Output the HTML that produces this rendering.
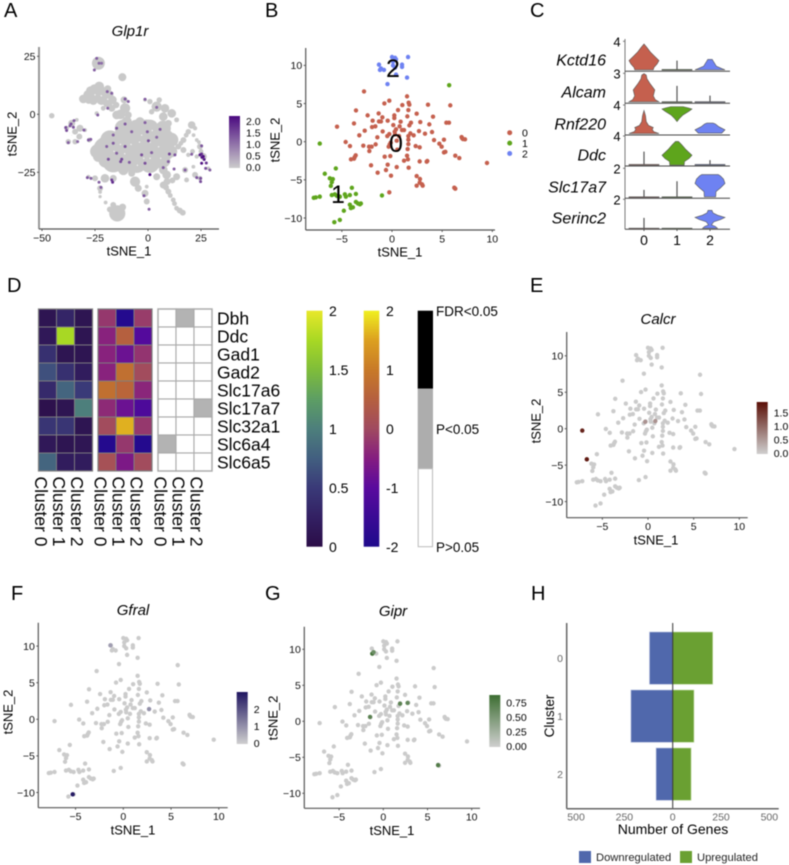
<!DOCTYPE html>
<html><head><meta charset="utf-8"><title>Figure</title>
<style>
html,body{margin:0;padding:0;background:#fff;width:789px;height:865px;overflow:hidden}
svg{display:block;filter:blur(0.4px)}
text{font-family:"Liberation Sans",sans-serif;fill:#000}
.tit{font-style:italic;font-size:15px;text-anchor:middle}
.let{font-size:20px}
</style></head>
<body>
<svg id="fig" xmlns="http://www.w3.org/2000/svg" width="789" height="865" viewBox="0 0 789 865">
<rect width="789" height="865" fill="#fff"/>
<text class="let" x="4" y="17">A</text>
<text class="let" x="265" y="17">B</text>
<text class="let" x="530" y="17">C</text>
<text class="let" x="7" y="292">D</text>
<text class="let" x="530" y="292">E</text>
<text class="let" x="11" y="600">F</text>
<text class="let" x="265" y="600">G</text>
<text class="let" x="531" y="600">H</text>
<text class="tit" x="130" y="36">Glp1r</text>
<text class="tit" x="658" y="324">Calcr</text>
<text class="tit" x="133" y="615">Gfral</text>
<text class="tit" x="393" y="616">Gipr</text>
</svg>
<script>
/* ---------- shared tSNE data ---------- */
var cluster0Points=[[-2.79,6.59],[1.5,5.94],[-.27,5.37],[1.66,5.11],[1.73,4.85],[3.59,4.85],[5.81,4.76],[-.76,5.02],[1.03,4.8],[-3.59,4.1],[.6,4.15],[1.63,4.15],[-1.33,3.71],[-2.43,3.45],[-.96,3.19],[.23,3.45],[.23,3.1],[1.53,3.32],[2.46,3.67],[4.09,3.28],[-1.93,2.75],[-.43,2.75],[-1.3,2.66],[-1.1,2.66],[.86,2.62],[2.82,2.58],[5.42,2.49],[5.68,2.49],[1.89,2.49],[-3.79,2.4],[.13,2.18],[1.73,2.14],[3.72,2.27],[-5.48,1.97],[-1.66,2.01],[-1.99,1.92],[.76,2.01],[2.69,1.4],[-2.72,1.44],[-.93,1.35],[.4,1.62],[1,1.53],[1.2,1.53],[.27,1.31],[.3,.96],[1.83,1.09],[2.16,.83],[3.29,1.05],[3.99,1.27],[-3.26,.83],[-1.46,.57],[-.27,1],[-.47,.74],[.7,.74],[1.63,.74],[.47,.13],[1.63,.26],[4.19,.22],[5.18,.26],[6.94,.61],[6.98,.48],[7.08,.35],[7.28,.31],[-4.62,-.04],[-4.19,-.57],[-2.86,-.52],[-2.29,-.66],[-2.03,-.66],[-1.63,-.35],[-.23,-.35],[-.33,-.66],[-.13,-.13],[1.63,-.31],[2.36,-.57],[2.76,-.74],[4.72,-.26],[4.95,-.66],[-2.26,-1.22],[.53,-1.05],[1.56,-.96],[5.18,-1.4],[5.32,-1.33],[-3.62,-1.79],[-3.72,-2.01],[-.73,-1.97],[-.17,-1.88],[1.5,-1.83],[6.31,-1.83],[6.71,-2.14],[-3.79,-2.23],[-4.09,-2.31],[1.59,-2.31],[1.2,-2.49],[2.76,-2.58],[3.52,-2.53],[3.46,-2.62],[9.47,-2.79],[-2.09,-3.1],[-.43,-3.01],[.47,-3.32],[1.66,-3.41],[-.6,-3.71],[-1.43,-4.06],[-.1,-4.45],[2.46,-4.5],[2.79,-4.89],[2.76,-5.37],[2.46,-5.76],[2.99,-5.59],[3.06,-5.76],[6.21,-6.03],[6.31,-6.16],[-.27,-6.64]];
var cluster1Points=[[5.7,7.4],[-7.2,-.25],[-5.6,-3.5],[-6.7,-4.2],[-6.2,-4.8],[-5.9,-4.9],[-6,-5.3],[-6.1,-5.8],[-4,-6.05],[-3.6,-6.85],[-6,-7],[-5.7,-6.9],[-5.5,-7.1],[-5.2,-7.2],[-4.7,-6.9],[-4.6,-7.2],[-4.2,-7],[-7.8,-7.35],[-7.6,-7.3],[-7.2,-7.2],[-1,-7.05],[-3.6,-7.9],[-3.4,-8.1],[-3.2,-8.2],[-3.1,-8.1],[-4.2,-8.25],[-4.1,-8.7],[-3.9,-8.6],[-4.8,-9.05],[-5.2,-10.25],[-5.75,-10.55]];
var cluster2Points=[[-1.3,10.1],[-1.2,9.4],[-1.1,9.6],[-.8,9.4],[0,11.1],[.3,11],[.4,10.8],[.1,10.5],[.1,10],[.3,9.7],[1,10.1],[1,9.8],[.4,8.8],[1.6,11.1],[1.5,8.4],[-.45,7.55]];
var allPoints=cluster0Points.concat(cluster1Points,cluster2Points);
var tsneXTicks=[-5,0,5,10];
var tsneYTicks=[-10,-5,0,5,10];
var clusterNames=['0','1','2'];
var calcrValues=[[-7.2,-.25,1.7],[-6.7,-4.2,1.8],[-.3,.95,.6],[.8,1.05,.6]];
var gfralValues=[[-5.3,-10.25,2.9],[-1.35,10.1,.8],[2.7,1.4,1]];
var giprValues=[[-1.25,9.4,.85],[-1.1,9.6,.6],[1.9,2.45,.7],[2.75,2.55,.65],[-1.5,.6,.7],[6.2,-6.1,.75]];
/* ---------- Panel A: cell regions [tSNE_1,tSNE_2,extent] ---------- */
var glp1rRegions=[[-23.4,22,2.4],[-12.1,16,1.5],[-45.4,-.6,1],[-30.5,6.6,1.6],[-28.1,8.3,1.9],[-25,10.5,2.1],[-21.9,9.8,1.9],[-18.7,8.3,1.9],[-16.8,6.2,1.6],[-21.9,6.2,1.9],[-25.8,5.9,1.6],[-17.1,2.6,1.3],[-21.1,2.6,.9],[-24.2,.4,.8],[-27,10,1.8],[-23,12,1.8],[-19,11,1.3],[-28,6,1.3],[-24,8,1.8],[-19,5,1.8],[-15,4,1.2],[-13,0,1.8],[-10,-3,1.8],[-11.3,6.2,1.3],[-10.8,2.6,1.9],[-14.8,-.3,1.6],[-9.3,-.3,1.3],[-1.4,6.2,.7],[.9,5.5,1],[5.3,6.2,1],[4.1,3.3,1.9],[8,2.6,1.6],[11.2,.4,1.6],[7.2,-1,1.6],[1.7,1.1,1],[13.5,-2.4,.9],[9.6,-3.9,1.3],[-38.4,-6,.9],[-36,-3.9,1.3],[-33.6,-2.4,.7],[-32.1,-6,1.3],[-34.4,-7.5,1.1],[-32.4,-9.6,1.1],[-37.6,-11.8,1],[-34.4,-11.8,1],[-29.7,-6.8,.7],[-27.7,-11.1,.9],[-19.5,-15.4,5],[-12.4,-11.8,4.5],[-.6,-7.5,4.5],[7.2,-11.1,4.3],[-6.1,-17.5,6],[3.3,-16.8,5.7],[-16.4,-20.4,4],[-23.4,-18.2,2],[-6.1,-9.6,3.6],[-3.8,-3.2,1.7],[-7.7,-5.3,1.7],[10,-18,1.1],[-11.6,-6,3.2],[-5.3,-6,3.2],[.9,-6,3.2],[7.2,-6,2.8],[-17.9,-11.1,3.6],[-5.3,-11.1,3.6],[.9,-11.1,3.6],[11,-11,2.6],[-24,-16,2.6],[-11.6,-16.1,3.6],[.9,-16.1,3.6],[7.2,-16.1,3.6],[11,-16,2.2],[-11.6,-21.1,3.6],[-5.3,-21.1,3.6],[.9,-21.1,3.6],[7.2,-20,2.6],[-20,-20,2.6],[20.6,-4.6,1.4],[19,-7.5,1],[22.2,-6,.8],[16.7,-11.1,1.1],[14.3,-13.9,1.1],[18,-9,.9],[15.5,-12.5,.9],[21.5,-9,.7],[24,-12,.7],[21,-16,.9],[25,-16,.9],[23,-11.1,.7],[24.5,-13.9,1.1],[23,-18.2,.8],[19,-17.5,.8],[16.7,-15.4,1.1],[26.1,-18.2,1.3],[28.5,-23.3,.7],[7.2,-24,1.6],[4.1,-26.9,1.3],[8.8,-26.1,1.6],[13.5,-26.9,1.3],[17.5,-24,1.1],[21.4,-22.6,.7],[22.2,-26.1,1.1],[24.5,-27.6,.9],[18.2,-28.3,.9],[7.2,-30.5,1.3],[9.6,-33.3,1.1],[11.9,-36.9,.9],[13.5,-40.5,.9],[16.4,-42.4,1.1],[11.5,-28.5,1.1],[8.5,-31.5,1.1],[10.5,-35,.9],[12.5,-38.5,.9],[15,-41.5,1.1],[9,-29,1.3],[-6.1,-29,1.9],[-4.6,-31.9,1.3],[-1.4,-34.1,1.3],[-.6,-37.6,1.1],[-.6,-31.2,.7],[-7.7,-25.4,1.3],[-11.6,-24,1.9],[-28.1,-26.9,.7],[-25,-27.6,1.1],[-20.3,-27.6,1.6],[-16.4,-27.6,1.3],[-22.6,-31.9,1.1],[-22.6,-33.5,.7],[-22.6,-35.5,.6],[-20,-38,.7],[-18,-41,1.1],[-16.4,-39.1,1.1],[-12,-40,1.3],[-14.5,-42.7,3]];
var glp1rGaps=[[-22,8],[-25,8.4],[-19,6.5],[-13,-13],[-8,-13],[-4,-12],[1,-12],[5,-14],[-9,-21],[-5,-22],[-2,-19],[1,-19],[-20,-14],[-16,-16],[6,-19],[-11,-17],[2,-7],[-3,-9],[-37,-8],[-36,-9]];
var glp1rValues=[[-24.2,24.1,1],[-23.1,22,.9],[-21.9,22,.8],[-25.3,19.1,1],[-19.2,9.8,1],[-17.1,9.1,1],[-10.8,6.6,1.1],[-9.3,5.5,1],[-19,2.6,.9],[-1.4,6.5,1],[4.1,3,.9],[-23.7,-.3,1],[-38.8,-5.7,1.2],[-38.4,-7,1.2],[-36.3,-4.2,1.2],[-34.9,-2.7,1],[-35.2,-5.6,1.1],[-36.8,-5,1],[-30.2,-6.8,1],[-37.6,-12.2,1],[-33.2,-11.8,.9],[-28.1,-11.1,1.1],[-27,-10.8,1],[-19.5,-13.9,1],[-16.4,-8.9,1],[-14.8,-6,1.1],[-16.4,-12.5,1.1],[-10.8,-13.9,1.2],[-10.8,-4.2,1.1],[-7.7,-7.5,1],[-1.4,-3.6,1],[-.3,-7.5,1],[4.1,-9.9,.9],[.2,-11.4,1.2],[5.7,-6.5,1],[-12.4,-19.4,1.3],[-12.9,-20.4,1.2],[-18.7,-19.4,1.2],[-14.8,-16.8,1],[1.7,-16.5,1],[10.1,-17.1,1.3],[12.7,-17.5,1.1],[9.6,-20.4,1],[-3,-17.5,1.2],[-1.4,-21.1,1.2],[-8.8,-20.7,1],[.9,-26,2.2],[7.2,-23,1],[12.3,-23.6,1],[20.6,-17.2,1],[25.3,-13.6,1.1],[25.3,-17.1,1.5],[25.3,-21.1,1.9],[26.1,-18.2,2],[27.2,-23.3,1.2],[29.2,-24,1],[-28.6,-27.3,1.1],[-26.9,-27.6,1],[-23.1,-29.3,1],[-22.2,-31.5,1],[-17.1,-28.3,1.4],[-16.7,-29.3,1.6],[-1.9,-35.1,1.1],[.5,-40.9,1],[17.5,-24,1],[23,-27.3,1.1],[24.8,-27.6,1.2],[24.8,-29,1.2],[24.5,-17.5,1.8],[25.5,-18.5,1.9],[26.5,-19.5,1.8],[27.5,-21,1.5]];
var glp1rXTicks=[-50,-25,0,25];
var glp1rYTicks=[-25,0,25];
/* ---------- Panel C: violin profiles [expression, density] ---------- */
var violinGenes=['Kctd16','Alcam','Rnf220','Ddc','Slc17a7','Serinc2'];
var violinProfiles=[
[[[.2,.62],[.5,.66],[1,.88],[1.45,1],[2,.72],[2.6,.42],[3.2,.2],[3.68,0]],[[.15,1],[.25,1],[.25,.02],[1.4,.02],[1.4,0]],[[.2,1],[.35,.8],[.7,.42],[1.1,.3],[1.35,.22],[1.6,.15]]],
[[[.2,1],[.5,.75],[1,.62],[1.8,.72],[2.6,.42],[3.3,.2],[3.8,.15],[4,0]],[[.12,1],[.22,1],[.22,.02],[2.3,.02],[2.3,0]],[[.12,1],[.22,1],[.22,.02],[1,.02],[1,0]]],
[[[.2,1],[.45,.65],[.75,.55],[1,.62],[1.3,.3],[1.8,.15],[2.6,.1],[3.3,0]],[[1.8,0],[2.2,.15],[2.7,.4],[3.2,.8],[3.5,1],[3.65,.75],[3.82,.4]],[[.25,.78],[.7,1],[1.1,.6],[1.5,.35],[1.6,.2]]],
[[[.12,1],[.22,1],[.22,.02],[1.9,.02],[1.9,0]],[[.12,.48],[.6,.5],[1,.8],[1.45,1],[2.2,.6],[2.9,.3],[3.3,.1]],[[.12,1],[.22,1],[.22,.02],[.75,.02],[.75,0]]],
[[[.1,1],[.2,1],[.2,.02],[1.1,.02],[1.1,0]],[[.1,1],[.2,1],[.2,.02],[2.25,.02],[2.25,0]],[[.2,.38],[.9,.4],[1.4,.7],[2,1],[2.6,.9],[3,.7],[3.2,.55]]],
[[[.05,1],[.15,1],[.15,.02],[1.5,.02],[1.5,0]],[[.05,1],[.15,1],[.15,0]],[[.13,.5],[.4,.35],[.6,.1],[1,.25],[1.3,.7],[1.6,1],[1.9,.5],[2.2,.2],[2.55,.13]]]
];
var violinFills=['#c5604e','#5ea51c','#6e82f2'];
var violinTickLabels=['4','3','4','4','2','2'];
/* ---------- Panel D: heatmaps ---------- */
var heatGenes=['Dbh','Ddc','Gad1','Gad2','Slc17a6','Slc17a7','Slc32a1','Slc6a4','Slc6a5'];
var heatClusters=['Cluster 0','Cluster 1','Cluster 2'];
var exprMatrix=[[.1,.3,.1],[.15,1.75,.1],[.4,.1,.1],[.65,.4,.2],[.35,.8,.5],[.05,.1,1],[.45,.45,.1],[.15,.1,.12],[.8,.2,.2]];
var foldMatrix=[[-.2,-1.9,-.15],[-.45,.5,-1.1],[-.45,-.8,-.25],[-.45,.8,.05],[.8,.6,-.4],[-.35,-.8,-1.2],[.05,1.6,-.2],[-1.9,-.2,-1.9],[.15,-.6,.05]];
var signifMatrix=[[0,1,0],[0,0,0],[0,0,0],[0,0,0],[0,0,0],[0,0,1],[0,0,0],[1,0,0],[0,0,0]];
var exprBarLabels=['2','1.5','1','0.5','0'];
var foldBarLabels=['2','1','0','-1','-2'];
/* ---------- Panel H ---------- */
var degClusters=['0','1','2'];
var degDown=[120,216,86];
var degUp=[207,110,95];
var degTicks=[-500,-250,0,250,500];

/* ---------- helpers ---------- */
var NS='http://www.w3.org/2000/svg';
var svg=document.getElementById('fig');
function mk(tag,parent){var e=document.createElementNS(NS,tag);(parent||svg).appendChild(e);return e;}
function line(x1,y1,x2,y2,col,w,name){
  var l=mk('line');
  l.setAttribute('x1',x1);l.setAttribute('y1',y1);l.setAttribute('x2',x2);l.setAttribute('y2',y2);
  l.setAttribute('stroke',col);l.setAttribute('stroke-width',w);
  
  
  return l;
}
function txt(s,x,y,size,anchor,name,col){
  var t=mk('text');
  t.textContent=s;
  t.setAttribute('x',x);t.setAttribute('y',y+size*0.36);t.setAttribute('font-size',size);t.setAttribute('text-anchor',anchor);
  if(col)t.style.fill=col;
  
  
  return t;
}
function rect(x,y,w,h,fill,name){
  var r=mk('rect');
  r.setAttribute('x',x);r.setAttribute('y',y);r.setAttribute('width',w);r.setAttribute('height',h);r.setAttribute('fill',fill);
  
  
  return r;
}
function dot(x,y,r,fill,name){
  var c=mk('circle');
  c.setAttribute('cx',x);c.setAttribute('cy',y);c.setAttribute('r',r);c.setAttribute('fill',fill);
  
  
  return c;
}
function fmt(v){return (v<0?'\u2212':'')+Math.abs(v);}
function hex(c){return [parseInt(c.substr(1,2),16),parseInt(c.substr(3,2),16),parseInt(c.substr(5,2),16)];}
function mix(a,b,t){var A=hex(a),B=hex(b);return 'rgb('+[0,1,2].map(function(i){return Math.round(A[i]+(B[i]-A[i])*t);}).join(',')+')';}
function ramp(stops,t){t=Math.max(0,Math.min(1,t));var n=stops.length-1,i=Math.min(n-1,Math.floor(t*n));return mix(stops[i],stops[i+1],t*n-i);}
var gradN=0;
function gradBar(x,y,w,h,stops,name){
  var id='g'+(gradN++);
  var defs=mk('defs');
  var g=mk('linearGradient',defs);
  g.setAttribute('id',id);g.setAttribute('x1','0');g.setAttribute('y1','1');g.setAttribute('x2','0');g.setAttribute('y2','0');
  stops.forEach(function(c,i){var s=mk('stop',g);s.setAttribute('offset',i/(stops.length-1));s.setAttribute('stop-color',c);});
  return rect(x,y,w,h,'url(#'+id+')',name);
}
function axes(p,name,xTicks,yTicks,xfn,yfn){
  line(p.left,p.top,p.left,p.bottom,p.axis||'#555',p.axisW||1.2,name+'-y-axis');
  line(p.left,p.bottom,p.right,p.bottom,'#555',1.2,name+'-x-axis');
  xTicks.forEach(function(v){
    line(xfn(v),p.bottom,xfn(v),p.bottom+2,'#555',1,name+'-x-tick');
    txt(fmt(v),xfn(v),p.bottom+8.5,10.5,'middle',name+'-x-tick-label','#111');
  });
  yTicks.forEach(function(v){
    line(p.left-2,yfn(v),p.left,yfn(v),'#555',1,name+'-y-tick');
    txt(fmt(v),p.left-3.5,yfn(v),10.5,'end',name+'-y-tick-label','#111');
  });
  txt('tSNE_1',p.xTitleX,p.bottom+22,13,'middle',name+'-x-title');
  var t=txt('tSNE_2',0,0,13,'middle',name+'-y-title');
  t.setAttribute('transform','translate('+p.yTitleX+','+p.yTitleY+') rotate(-90)');
}
function featurePanel(p,name,values,low,high,vmax,legendLabels){
  var xs=function(v){return p.x0+v*p.kx;},ys=function(v){return p.y0-v*p.ky;};
  axes(p,name,tsneXTicks,tsneYTicks,xs,ys);
  allPoints.forEach(function(d){dot(xs(d[0]),ys(d[1]),2.2,'#cbcbcb',name+'-cell');});
  values.forEach(function(d){dot(xs(d[0]),ys(d[1]),2.2,mix(low,high,Math.min(1,d[2]/vmax)),name+'-expressing-cell');});
  gradBar(p.lx,p.ly,11,p.lh,[low,high],name+'-colorbar');
  legendLabels.forEach(function(l){txt(l[0],p.lx+17,p.ly+p.lh-1-(l[1]/vmax)*(p.lh-1),10.5,'start',name+'-colorbar-label');});
}

/* ---------- Panel A ---------- */
(function(){
  var p={left:39,right:219,top:47,bottom:229,axis:'#999',axisW:2,xTitleX:129,yTitleX:12,yTitleY:134};
  var xs=function(v){return 148+v*2.12;},ys=function(v){return 114.3-v*2.32;};
  axes(p,'glp1r',glp1rXTicks,glp1rYTicks,xs,ys);
  glp1rRegions.forEach(function(d){dot(xs(d[0]),ys(d[1]),d[2]*2.7,'#c9c9c9','glp1r-cell-region');});
  glp1rGaps.forEach(function(d){dot(xs(d[0]),ys(d[1]),.7,'#f4f4f4','glp1r-gap');});
  glp1rValues.forEach(function(d){dot(xs(d[0]),ys(d[1]),1.5,mix('#cccccc','#4b0a80',Math.min(1,(d[2]+.3)/2.3)),'glp1r-expressing-cell');});
  gradBar(229,116,11,52,['#cccccc','#4b0a80'],'glp1r-colorbar');
  [['2.0',121],['1.5',132.5],['1.0',144],['0.5',155.5],['0.0',167]].forEach(function(l){txt(l[0],246,l[1],10.5,'start','glp1r-colorbar-label');});
})();

/* ---------- Panel B ---------- */
(function(){
  var p={left:305.7,right:495,top:48,bottom:230,xTitleX:400,yTitleX:275,yTitleY:140};
  var xs=function(v){return 392+v*10.03;},ys=function(v){return 141.7-v*7.63;};
  axes(p,'cluster-tsne',tsneXTicks,tsneYTicks,xs,ys);
  var cols=['#c5604e','#5ea51c','#6e82f2'];
  [cluster0Points,cluster1Points,cluster2Points].forEach(function(pts,k){
    pts.forEach(function(d){dot(xs(d[0]),ys(d[1]),2.2,cols[k],'cluster-'+k+'-cell');});
  });
  txt('0',396,143,25,'middle','cluster-0-label');
  txt('1',338,194,25,'middle','cluster-1-label');
  txt('2',393,68,25,'middle','cluster-2-label');
  clusterNames.forEach(function(n,i){
    var y=132.7+i*10.4;
    dot(509.7,y,2.5,cols[i],'legend-dot-'+n);
    txt(n,522,y,10.5,'start','legend-label-'+n);
  });
})();

/* ---------- Panel C ---------- */
(function(){
  var bases=[71.3,103.3,135,166,198.3,229.3],xc=[644,677,710],unit=7.43,half=15;
  line(625,39,625,229.3,'#777',1,'violin-y-axis');
  violinGenes.forEach(function(g,r){
    var b=bases[r];
    line(625,b,730,b,'#444',1,'violin-row-baseline');
    line(623,b-30,625,b-30,'#777',1,'violin-y-tick');
    txt(violinTickLabels[r],617,b-29.5,13,'middle','violin-tick-label');
    var lab=txt(g,606,b-11.5,16,'end','gene-label-'+g);
    lab.setAttribute('font-style','italic');
    violinProfiles[r].forEach(function(prof,c){
      var left=prof.map(function(d){return (xc[c]-d[1]*half)+','+(b-d[0]*unit);});
      var right=prof.slice().reverse().map(function(d){return (xc[c]+d[1]*half)+','+(b-d[0]*unit);});
      var poly=mk('polygon');
      poly.setAttribute('points',left.concat(right).join(' '));
      poly.setAttribute('fill',violinFills[c]);
      poly.setAttribute('stroke','#555');
      poly.setAttribute('stroke-width','0.6');
      
      
    });
  });
  clusterNames.forEach(function(n,i){
    line(xc[i],229.3,xc[i],231,'#555',1,'violin-x-tick');
    txt(n,xc[i],240,14,'middle','violin-x-label');
  });
})();

/* ---------- Panel D ---------- */
(function(){
  var cell=18,top=309;
  var exprStops=['#2b0d47','#332063','#3a3a78','#425f80','#4d7f7c','#5d9e64','#7fbd3a','#a8d824','#e8e82a'];
  var foldStops=['#1f0a8c','#3a0a95','#5a0a9e','#851d80','#a04a60','#b5603f','#c87a28','#dca020','#f0f020'];
  function exprCol(v){return ramp(exprStops,v/2);}
  function foldCol(v){return ramp(foldStops,(v+2)/4);}
  function heat(x0,matrix,colfn,border,name,bw){
    matrix.forEach(function(row,r){
      row.forEach(function(v,c){
        var q=rect(x0+c*cell,top+r*cell,cell,cell,colfn(v),name+'-cell');
        q.setAttribute('stroke',border);
        q.setAttribute('stroke-width',bw);
      });
    });
    var o=rect(x0,top,cell*3,cell*9,'none',name+'-frame');
    o.setAttribute('stroke',border);
    o.setAttribute('stroke-width',bw+.3);
    heatClusters.forEach(function(h,c){
      var t=txt(h,0,0,17.5,'start',name+'-column-label');
      t.setAttribute('transform','translate('+(x0+c*cell+9-6.3)+',476.5) rotate(90)');
    });
  }
  heat(38.5,exprMatrix,exprCol,'#808080','expression-heatmap',.9);
  heat(98,foldMatrix,foldCol,'#808080','fold-change-heatmap',.9);
  heat(158,signifMatrix,function(v){return v?'#b3b3b3':'#ffffff';},'#aaaaaa','significance-heatmap',1.1);
  heatGenes.forEach(function(g,r){txt(g,217,318.3+r*18,17.5,'start','heatmap-gene-label-'+g);});
  gradBar(306.5,310.7,16,236,exprStops,'expression-colorbar');
  gradBar(363.7,310.7,15.6,236,foldStops,'fold-change-colorbar');
  exprBarLabels.forEach(function(l,i){txt(l,329,311+i*59,14,'start','expression-colorbar-label');});
  foldBarLabels.forEach(function(l,i){txt(l,386,311+i*59,14,'start','fold-change-colorbar-label');});
  rect(417.7,310.7,15.3,78,'#000','fdr-bar-segment');
  rect(417.7,388.7,15.3,80,'#adadad','p-bar-segment');
  var w=rect(418.2,468.7,14.3,78,'#fff','ns-bar-segment');
  w.setAttribute('stroke','#bbb');
  w.setAttribute('stroke-width','1');
  txt('FDR<0.05',436,311,13.5,'start','fdr-label');
  txt('P<0.05',436,429,13.5,'start','p-label');
  txt('P>0.05',436,547,13.5,'start','ns-label');
})();

/* ---------- Panels E, F, G ---------- */
featurePanel({left:566.7,right:747.7,top:332,bottom:517.7,x0:648,kx:9.13,y0:428.7,ky:7.29,xTitleX:656,yTitleX:536,yTitleY:421,lx:756.7,ly:402,lh:52},
  'calcr',calcrValues,'#cfcfcf','#5a0f06',1.9,[['1.5',1.5],['1.0',1],['0.5',.5],['0.0',0]]);
featurePanel({left:38.3,right:227.7,top:622.7,bottom:807.7,x0:123.3,kx:9.55,y0:719.3,ky:7.32,xTitleX:133,yTitleX:8,yTitleY:712,lx:236.7,ly:692,lh:52},
  'gfral',gfralValues,'#cfcfcf','#1f1560',3,[['2',2],['1',1],['0',0]]);
featurePanel({left:304.3,right:480,top:626.7,bottom:808.3,x0:383.3,kx:8.84,y0:721.3,ky:7.2,xTitleX:392,yTitleX:273,yTitleY:718,lx:489.3,ly:695,lh:52},
  'gipr',giprValues,'#cfcfcf','#3d6e32',.88,[['0.75',.75],['0.50',.5],['0.25',.25],['0.00',0]]);

/* ---------- Panel H ---------- */
(function(){
  var xs=function(v){return 672.7+v*0.1933;};
  var top=[632,690,748],h=52.3;
  degClusters.forEach(function(n,i){
    var d=rect(xs(-degDown[i]),top[i],xs(0)-xs(-degDown[i]),h,'#5068ac','downregulated-bar-cluster-'+n);
    d.setAttribute('stroke','#b8c2e0');
    d.setAttribute('stroke-width','0.6');
    var u=rect(xs(0),top[i],xs(degUp[i])-xs(0),h,'#6aa032','upregulated-bar-cluster-'+n);
    u.setAttribute('stroke','#c4dca8');
    u.setAttribute('stroke-width','0.6');
    txt(n,560,top[i]+h/2,10.5,'middle','deg-cluster-label-'+n,'#666');
  });
  line(672.7,623,672.7,808.7,'#333',1,'zero-line');
  line(566.7,623,566.7,808.7,'#666',1.5,'deg-y-axis');
  line(566.7,808.7,778.7,808.7,'#666',1.5,'deg-x-axis');
  degTicks.forEach(function(v){txt(String(Math.abs(v)),xs(v),816.5,10.5,'middle','deg-x-tick-label','#666');});
  txt('Number of Genes',673,829,14,'middle','deg-x-title');
  var t=txt('Cluster',0,0,13.5,'middle','deg-y-title');
  t.setAttribute('transform','translate(549,716) rotate(-90)');
  rect(579,851,12,12,'#5068ac','legend-downregulated-swatch');
  txt('Downregulated',596,857,11.2,'start','legend-downregulated-label','#222');
  rect(680,851,12,12,'#6aa032','legend-upregulated-swatch');
  txt('Upregulated',697,857,11.2,'start','legend-upregulated-label','#222');
})();
</script>
</body></html>
